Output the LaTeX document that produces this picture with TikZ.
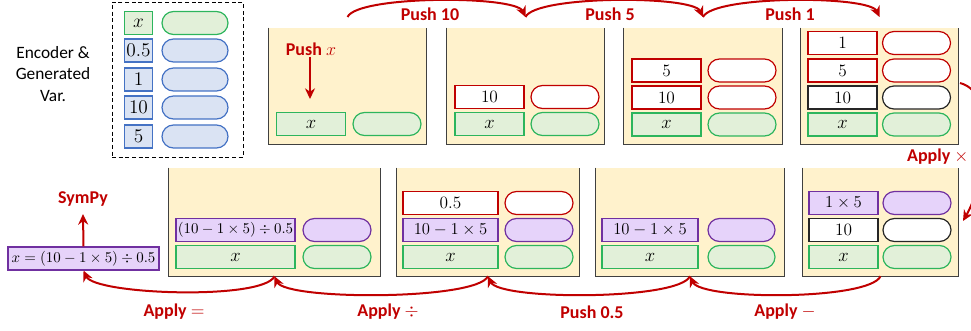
\RequirePackage{fix-cm}
\documentclass[tikz,border=0pt]{standalone}
\usepackage{fontspec}
\newfontfamily\carlito{Carlito}
\usetikzlibrary{arrows.meta}
\definecolor{yfill}{HTML}{FFF2CC}
\definecolor{gfill}{HTML}{E2F0D9}
\definecolor{gline}{HTML}{2DB55D}
\definecolor{bfill}{HTML}{DAE3F3}
\definecolor{bline}{HTML}{4472C4}
\definecolor{pfill}{HTML}{E6D3FA}
\definecolor{pline}{HTML}{7030A0}
\definecolor{dred}{HTML}{C00000}
\definecolor{boxline}{HTML}{404040}
\tikzset{
  cellbase/.style={draw, line width=0.9pt, inner sep=0pt, minimum height=17.25pt, font=\fontsize{13}{15}\selectfont},
  sq/.style={cellbase, minimum width=#1*0.75pt},
  pill/.style={cellbase, rounded corners=8.6pt, minimum width=#1*0.75pt},
  G/.style={fill=gfill, draw=gline},
  B/.style={fill=bfill, draw=bline},
  P/.style={fill=pfill, draw=pline},
  R/.style={fill=white, draw=dred},
  K/.style={fill=white, draw=black!85},
  small/.style={font=\fontsize{11.2}{13}\selectfont},
  mid/.style={font=\fontsize{12.5}{14}\selectfont},
  xf/.style={font=\fontsize{14}{16}\selectfont},
  encf/.style={font=\fontsize{14.5}{16}\selectfont},
  stackbox/.style={fill=yfill, inner sep=0pt, minimum width=#1*0.75pt},
  boxborder/.style={draw=boxline, line width=1pt},
  lbl/.style={font=\carlito\bfseries\fontsize{13.5}{16}\selectfont, text=dred, inner sep=1pt},
  arr/.style={draw=dred, line width=1.5pt, -{Stealth[length=8pt, width=7.5pt]}},
}
\begin{document}
\begin{tikzpicture}[x=0.75pt,y=-0.75pt]
\useasboundingbox (0,0) rectangle (971,331);

% ---------- encoder ----------
\node[font=\carlito\fontsize{13}{16}\selectfont, align=center] (enc) at (53,74) {Encoder \&\\Generated\\Var.};
\node[draw, dashed, dash pattern=on 3pt off 2pt, line width=0.7pt, inner sep=0pt,
      minimum width=131*0.75pt, minimum height=155*0.75pt] (encbox) at (177.5,79.5) {};
\node[sq=28, G, encf] (e1) at (138.5,23) {$x$};
\node[pill=66, G] (e1p) at (195,23) {};
\node[sq=28, B, encf] (e2) at (138.5,50.5) {$0.5$};
\node[pill=66, B] (e2p) at (195,50.5) {};
\node[sq=28, B, encf] (e3) at (138.5,79.5) {$1$};
\node[pill=66, B] (e3p) at (195,79.5) {};
\node[sq=28, B, encf] (e4) at (138.5,107.5) {$10$};
\node[pill=66, B] (e4p) at (195,107.5) {};
\node[sq=28, B, encf] (e5) at (138.5,136.5) {$5$};
\node[pill=66, B] (e5p) at (195,136.5) {};

% ---------- top stacks ----------
\node[stackbox=157, minimum height=116*0.75pt] (t1) at (347.5,86) {};
\node[stackbox=157, minimum height=116*0.75pt] (t2) at (525.5,86) {};
\node[stackbox=158, minimum height=116*0.75pt] (t3) at (703,86) {};
\node[stackbox=157, minimum height=116*0.75pt] (t4) at (879.5,86) {};
\foreach \b in {t1,t2,t3,t4}
  \draw[boxborder] (\b.north west) -- (\b.south west) -- (\b.south east) -- (\b.north east);

% box 1
\node[sq=69, G, xf] (a1x) at (311,124) {$x$};
\node[pill=68, G] (a1xp) at (387,124) {};
% box 2
\node[sq=69, R] (a2t) at (489.5,97) {$10$};
\node[pill=68, R] (a2tp) at (565,97) {};
\node[sq=69, G, xf] (a2x) at (489.5,124) {$x$};
\node[pill=68, G] (a2xp) at (565,124) {};
% box 3
\node[sq=69, R] (a3f) at (666.5,70.5) {$5$};
\node[pill=68, R] (a3fp) at (742,70.5) {};
\node[sq=69, R] (a3t) at (666.5,97.5) {$10$};
\node[pill=68, R] (a3tp) at (742,97.5) {};
\node[sq=69, G, xf] (a3x) at (666.5,124.5) {$x$};
\node[pill=68, G] (a3xp) at (742,124.5) {};
% box 4
\node[sq=69, R] (a4o) at (842.5,43) {$1$};
\node[pill=68, R] (a4op) at (916.5,43) {};
\node[sq=69, R] (a4f) at (842.5,70.5) {$5$};
\node[pill=68, R] (a4fp) at (916.5,70.5) {};
\node[sq=69, K] (a4t) at (842.5,97.5) {$10$};
\node[pill=68, K] (a4tp) at (916.5,97.5) {};
\node[sq=69, G, xf] (a4x) at (842.5,124.5) {$x$};
\node[pill=68, G] (a4xp) at (916.5,124.5) {};

% ---------- bottom stacks ----------
\node[stackbox=211, minimum height=108*0.75pt] (bA) at (274.5,222) {};
\node[stackbox=182, minimum height=108*0.75pt] (bB) at (488,222) {};
\node[stackbox=188, minimum height=108*0.75pt] (bC) at (690,222) {};
\node[stackbox=155, minimum height=108*0.75pt] (bD) at (880.5,222) {};
\foreach \b in {bA,bB,bC,bD}
  \draw[boxborder] (\b.north west) -- (\b.south west) -- (\b.south east) -- (\b.north east);

% box A
\node[sq=119, P, small] (cAe) at (235.5,230) {$(10-1\times5)\div0.5$};
\node[pill=68, P] (cAep) at (337,230) {};
\node[sq=119, G, xf] (cAx) at (235.5,257) {$x$};
\node[pill=68, G] (cAxp) at (337,257) {};
% box B
\node[sq=95, R] (cBh) at (450.5,203) {$0.5$};
\node[pill=68, R] (cBhp) at (539,203) {};
\node[sq=95, P, mid] (cBe) at (450.5,230) {$10-1\times5$};
\node[pill=68, P] (cBep) at (539,230) {};
\node[sq=95, G, xf] (cBx) at (450.5,257) {$x$};
\node[pill=68, G] (cBxp) at (539,257) {};
% box C
\node[sq=96, P, mid] (cCe) at (650,230) {$10-1\times5$};
\node[pill=67, P] (cCep) at (741.5,230) {};
\node[sq=96, G, xf] (cCx) at (650,257) {$x$};
\node[pill=67, G] (cCxp) at (741.5,257) {};
% box D
\node[sq=69, P, mid] (cDe) at (843.5,203) {$1\times5$};
\node[pill=68, P] (cDep) at (917,203) {};
\node[sq=69, K] (cDt) at (843.5,230) {$10$};
\node[pill=68, K] (cDtp) at (917,230) {};
\node[sq=69, G, xf] (cDx) at (843.5,257) {$x$};
\node[pill=68, G] (cDxp) at (917,257) {};

% result
\node[cellbase, P, small, minimum width=151*0.75pt] (res) at (83.5,258.5) {$x=(10-1\times5)\div0.5$};

% ---------- labels ----------
\node[lbl] (l1) at (430,14) {Push 10};
\node[lbl] (l2) at (610,14) {Push 5};
\node[lbl] (l3) at (790,14) {Push 1};
\node[lbl] (pushx) at (311,49) {Push $x$};
\node[lbl, anchor=east] (lx) at (970,157) {Apply $\times$};
\node[lbl] (sympy) at (83,199) {SymPy};
\node[lbl] (le) at (174,312) {Apply $=$};
\node[lbl] (ld) at (388,312) {Apply $\div$};
\node[lbl] (lp) at (592,312) {Push 0.5};
\node[lbl] (lm) at (785,312) {Apply $-$};

% ---------- connectors ----------
\coordinate (q1) at (347.5,17);
\coordinate (q2) at (525.5,17);
\coordinate (q3) at (703,17);
\coordinate (q4) at (879.5,17);
\draw[arr] (q1) to[out=65, in=115, distance=18pt] (q2);
\draw[arr] (q2) to[out=65, in=115, distance=18pt] (q3);
\draw[arr] (q3) to[out=65, in=115, distance=18pt] (q4);

\coordinate (pxe) at (310,99);
\draw[arr] (pushx.south -| pxe) -- (pxe);

\coordinate (axs) at (960,83);
\coordinate (axe) at (963,221);
\draw[arr] (axs) to[out=-15, in=60, distance=32pt] (axe);

\draw[arr] (bD.south) to[out=-115, in=-65, distance=20pt] (bC.south);
\draw[arr] (bC.south) to[out=-115, in=-65, distance=20pt] (bB.south);
\draw[arr] (bB.south) to[out=-115, in=-65, distance=20pt] (bA.south);
\draw[arr] (bA.south) to[out=-115, in=-65, distance=20pt] (res.south);

\coordinate (spe) at (83,214);
\draw[arr] (res.north) -- (spe);
\end{tikzpicture}
\end{document}
